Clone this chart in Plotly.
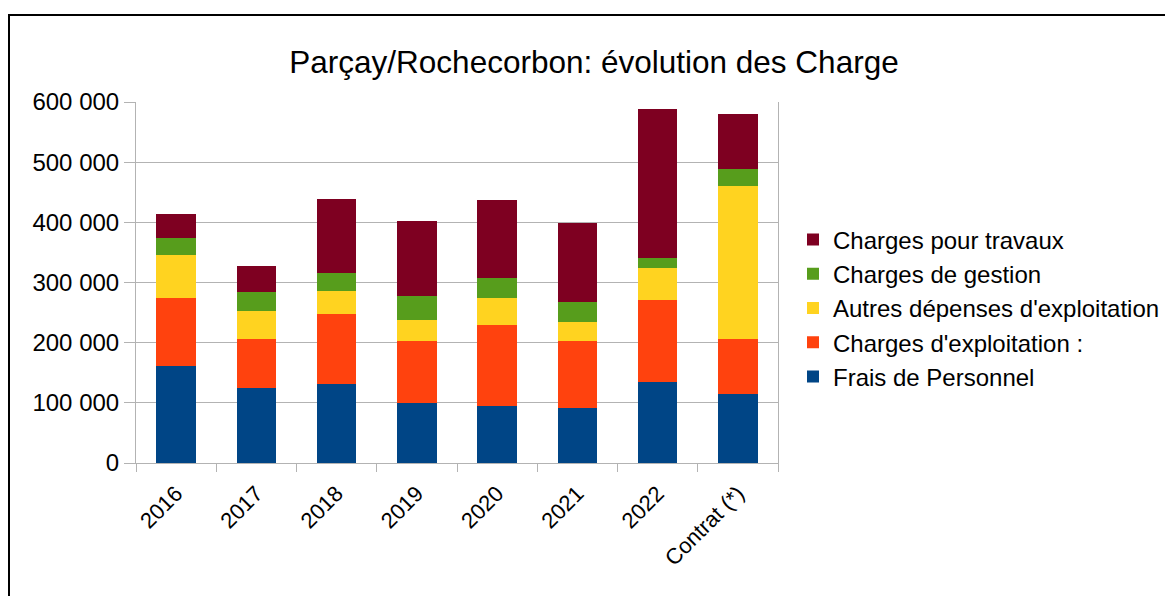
import plotly.graph_objects as go

categories = ["2016", "2017", "2018", "2019", "2020", "2021", "2022", "Contrat (*)"]

frais_personnel = [162000, 125000, 131000, 100000, 94000, 91000, 134000, 115000]
charges_exploitation = [113000, 81000, 116000, 103000, 136000, 112000, 137000, 91000]
autres_depenses = [71000, 47000, 39000, 34000, 45000, 31000, 53000, 255000]
charges_gestion = [28000, 31000, 29000, 40000, 33000, 34000, 16000, 28000]
charges_travaux = [40000, 43000, 124000, 125000, 129000, 131000, 249000, 91000]

series = [
    ("Frais de Personnel", frais_personnel, "#004586"),
    ("Charges d'exploitation :", charges_exploitation, "#ff420e"),
    ("Autres dépenses d'exploitation", autres_depenses, "#ffd320"),
    ("Charges de gestion", charges_gestion, "#579d1c"),
    ("Charges pour travaux", charges_travaux, "#7e0021"),
]

fig = go.Figure()
for name, vals, color in series:
    fig.add_trace(go.Bar(x=categories, y=vals, name=name,
                         marker=dict(color=color, line=dict(width=0))))

# page is drawn with an 8px body margin, so figure coords = reference - 8
L, R, T, B = 128, 770, 94, 455
W, H = 1173, 596
pw, ph = R - L, B - T

fig.update_layout(
    width=W, height=H,
    barmode="stack",
    bargap=0.51,
    separators=", ",
    paper_bgcolor="white",
    plot_bgcolor="white",
    font=dict(family="Liberation Sans, Arial, sans-serif", color="#000000"),
    margin=dict(l=L, r=W - R, t=T, b=H - B, autoexpand=False),
    title=dict(text="Parçay/Rochecorbon: évolution des Charge",
               x=586 / W, xanchor="center", y=1 - 54 / H, yanchor="middle",
               font=dict(size=31.5, color="#000000")),
    legend=dict(traceorder="reversed", x=(785 - L) / pw, xanchor="left",
                y=(B - 300) / ph, yanchor="middle",
                font=dict(size=24, color="#000000"), bgcolor="rgba(0,0,0,0)"),
    xaxis=dict(tickangle=-45, tickfont=dict(size=22), ticks="outside",
               tickson="boundaries", ticklen=8, tickcolor="#b3b3b3",
               ticklabelstandoff=8,
               showline=True, linecolor="#b3b3b3", linewidth=1,
               showgrid=False, mirror=False),
    yaxis=dict(range=[0, 600000], tickvals=[0, 100000, 200000, 300000, 400000, 500000, 600000],
               tickformat=",d", tickfont=dict(size=24), ticks="outside", ticklen=11,
               tickcolor="#b3b3b3", showgrid=True, gridcolor="#b3b3b3", gridwidth=1,
               showline=True, linecolor="#b3b3b3", linewidth=1, mirror=True,
               zeroline=False),
    shapes=[dict(type="rect", xref="paper", yref="paper",
                 x0=(1 - L) / pw, x1=(1185 - L) / pw,
                 y0=(B - 610) / ph, y1=(B - 7) / ph,
                 line=dict(color="#000000", width=2), fillcolor="rgba(0,0,0,0)",
                 layer="below")],
)

fig.write_html("out.html")
